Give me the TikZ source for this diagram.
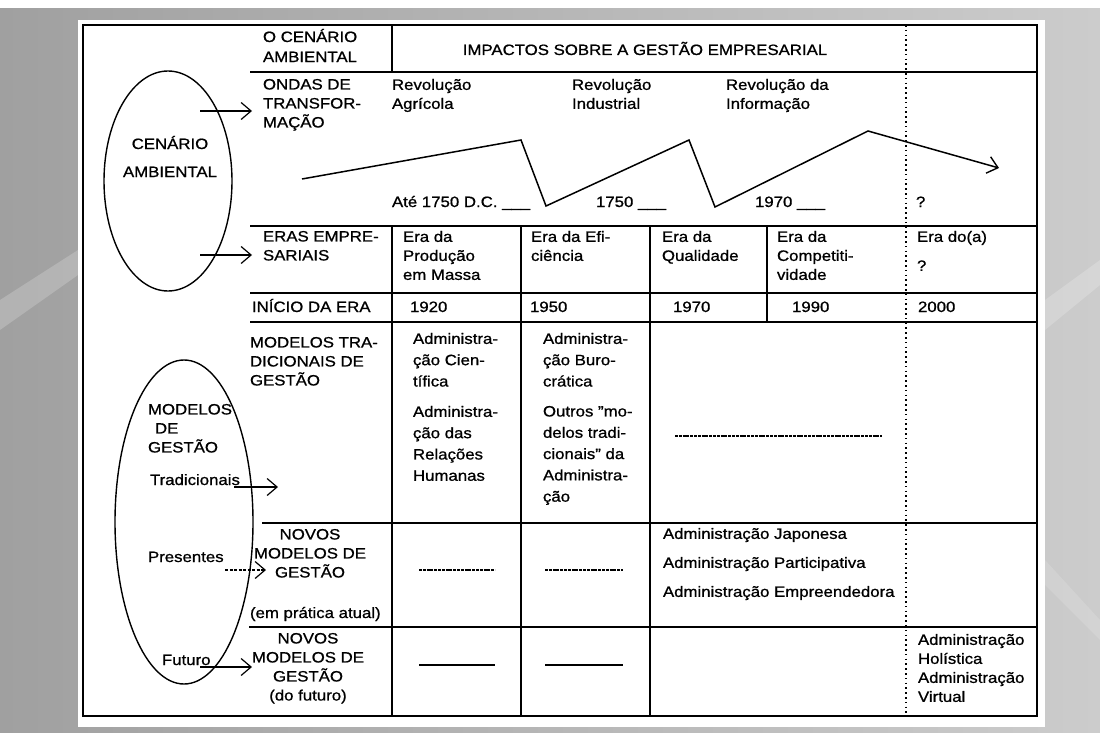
\documentclass[tikz,border=0pt]{standalone}
\usepackage{fontspec}
\setmainfont{Liberation Sans}[FakeStretch=1.12, FakeBold=0.9]
\usetikzlibrary{arrows.meta,shapes.geometric}
\definecolor{bgL}{RGB}{160,160,160}
\definecolor{bgR}{RGB}{204,204,204}
\newcommand\fA{\fontsize{15}{19}\selectfont}
\newcommand\fB{\fontsize{15}{21.3}\selectfont}
\newcommand\fC{\fontsize{15}{29}\selectfont}
\newcommand\fD{\fontsize{15}{28}\selectfont}
\newcommand\fE{\fontsize{15}{20}\selectfont}
\newcommand\sq{\symbol{34}}
\tikzset{
  tx/.style={anchor=north west, inner sep=0pt, outer sep=0pt, align=left, yshift=14pt, font=\fA,
             execute at begin node={\rule{0pt}{14pt}}},
  txc/.style={tx, anchor=north, align=center},
  frm/.style={line width=1.4pt, line cap=rect},
  dotv/.style={line width=1.6pt, dash pattern=on 1.6pt off 3.2pt},
  arr/.style={line width=1.2pt, -{Straight Barb[length=10pt,width=17pt,line width=1.2pt]}},
  dasharr/.style={line width=1.1pt, dash pattern=on 3pt off 1.5pt, -{Straight Barb[length=10pt,width=17pt,line width=1.2pt,sep=0pt]}},
  wave/.style={line width=1.5pt, line join=miter, -{Straight Barb[length=10pt,width=17pt,line width=1.4pt]}},
  ell/.style={draw, ellipse, line width=1.4pt, inner sep=0pt},
  ph/.style={line width=1.1pt, dash pattern=on 3pt off 0.8pt},
  phs/.style={line width=1.4pt}
}
\begin{document}
\begin{tikzpicture}[x=1pt,y=-1pt]
\useasboundingbox (0,0) rectangle (1100,733);
% background
\shade[left color=bgL, right color=bgR] (0,0) rectangle (1100,733);
\fill[white,opacity=.2] (0,300) -- (78,250) -- (78,275) -- (0,330) -- cycle;
\fill[white,opacity=.2] (1045,300) -- (1100,260) -- (1100,285) -- (1045,330) -- cycle;
\fill[white,opacity=.15] (1045,560) -- (1100,620) -- (1100,640) -- (1045,585) -- cycle;
\fill[white] (0,0) rectangle (1100,8);
\fill[white] (78,20) rectangle (1045,727);

% table frame and rules
\draw[frm] (83,25) rectangle (1037,716);
\draw[frm] (251,72) -- (1037,72);
\draw[frm] (251,226) -- (1037,226);
\draw[frm] (251,293) -- (1037,293);
\draw[frm] (251,322) -- (1037,322);
\draw[frm] (263,523) -- (1037,523);
\draw[frm] (250,627) -- (1037,627);
\draw[frm] (392,25) -- (392,72);
\draw[frm] (392,226) -- (392,716);
\draw[frm] (521,226) -- (521,716);
\draw[frm] (650,226) -- (650,716);
\draw[frm] (767,226) -- (767,322);
\draw[dotv] (906,25) -- (906,716);

% ellipses
\node[ell, minimum width=128pt, minimum height=220pt] (envell) at (168,181) {};
\node[ell, minimum width=138pt, minimum height=324pt] (modell) at (184,522) {};

% header
\node[tx, font=\fE] (hdrL) at (263,43) {O CENÁRIO\\AMBIENTAL};
\node[txc] (hdrR) at (645,55) {IMPACTOS SOBRE A GESTÃO EMPRESARIAL};

% waves row
\node[tx] (ondas) at (263,93) {ONDAS DE\\TRANSFOR-\\MAÇÃO};
\node[tx] (rev1) at (392,93) {Revolução\\Agrícola};
\node[tx] (rev2) at (572,93) {Revolução\\Industrial};
\node[tx] (rev3) at (726,93) {Revolução da\\Informação};
\node[tx] (d1) at (392,207) {Até 1750 D.C. \_\_\_};
\node[tx] (d2) at (596,207) {1750 \_\_\_};
\node[tx] (d3) at (755,207) {1970 \_\_\_};
\node[tx] (dq) at (916,207) {?};
\coordinate (w0) at (302,179);
\coordinate (w1) at (521,140);
\coordinate (w2) at (546,206);
\coordinate (w3) at (689,140);
\coordinate (w4) at (715,207);
\coordinate (w5) at (868,131);
\coordinate (w6) at (999,168);
\draw[wave] (w0) -- (w1) -- (w2) -- (w3) -- (w4) -- (w5) -- (w6);

% eras row
\node[tx] (eras) at (263,245) {ERAS EMPRE-\\SARIAIS};
\node[tx] (e1) at (403,245) {Era da\\Produção\\em Massa};
\node[tx] (e2) at (531,245) {Era da Efi-\\ciência};
\node[tx] (e3) at (662,245) {Era da\\Qualidade};
\node[tx] (e4) at (777,245) {Era da\\Competiti-\\vidade};
\node[tx, font=\fC] (e5) at (917,245) {Era do(a)\\?};

% start of era row
\node[tx] (inicio) at (252,312) {INÍCIO DA ERA};
\node[tx] (y1) at (410,312) {1920};
\node[tx] (y2) at (530,312) {1950};
\node[tx] (y3) at (673,312) {1970};
\node[tx] (y4) at (792,312) {1990};
\node[tx] (y5) at (918,312) {2000};

% traditional models row
\node[tx] (mtrad) at (250,351) {MODELOS TRA-\\DICIONAIS DE\\GESTÃO};
\node[tx, font=\fB] (m1a) at (413,347) {Administra-\\ção Cien-\\tífica};
\node[tx, font=\fB] (m1b) at (413,420) {Administra-\\ção das\\Relações\\Humanas};
\node[tx, font=\fB] (m2a) at (543,347) {Administra-\\ção Buro-\\crática};
\node[tx, font=\fB] (m2b) at (543,420) {Outros \sq mo-\\delos tradi-\\cionais\sq\ da\\Administra-\\ção};
\draw[ph] (675,436) -- (882,436);

% new models (present)
\node[txc] (np) at (310,543) {NOVOS\\MODELOS DE\\GESTÃO};
\node[tx] (npa) at (250,618) {(em prática atual)};
\node[tx, font=\fC] (jap) at (663,542) {Administração Japonesa\\Administração Participativa\\Administração Empreendedora};
\draw[ph] (419,570) -- (495,570);
\draw[ph] (545,570) -- (623,570);

% new models (future)
\node[txc] (nf) at (308,647) {NOVOS\\MODELOS DE\\GESTÃO\\(do futuro)};
\node[tx] (holi) at (918,648) {Administração\\Holística\\Administração\\Virtual};
\draw[phs] (419,665) -- (495,665);
\draw[phs] (545,665) -- (623,665);

% ellipse texts
\node[txc, font=\fD] (envt) at (170,150) {CENÁRIO\\AMBIENTAL};
\node[tx] (mg) at (148,418) {MODELOS\\\hspace*{7pt}DE\\GESTÃO};
\node[tx] (trad) at (150,485) {Tradicionais};
\node[tx] (pres) at (148,562) {Presentes};
\node[tx] (fut) at (162,665) {Futuro};

% arrows
\coordinate (a1s) at (200,111); \coordinate (a1e) at (252,111);
\coordinate (a2s) at (200,255); \coordinate (a2e) at (252,255);
\coordinate (a3s) at (234,487); \coordinate (a3e) at (278,487);
\coordinate (a4s) at (225,570); \coordinate (a4e) at (266,570);
\coordinate (a5s) at (200,667); \coordinate (a5e) at (252,667);
\draw[arr] (a1s) -- (a1e);
\draw[arr] (a2s) -- (a2e);
\draw[arr] (a3s) -- (a3e);
\draw[dasharr] (a4s) -- (a4e);
\draw[arr] (a5s) -- (a5e);
\end{tikzpicture}
\end{document}
